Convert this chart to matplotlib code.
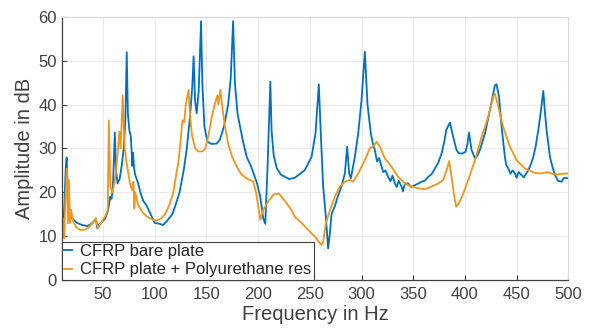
import matplotlib
matplotlib.use("Agg")
import matplotlib.pyplot as plt

# CFRP bare plate (frequency in Hz, amplitude in dB)
bare_f = [10, 11, 12, 13, 14, 14.8, 15.5, 16.2, 17, 18, 20, 25, 30, 35, 40, 43, 44.4, 46, 48,
          52, 55, 57, 58.2, 59.5, 61.4, 62.5, 64, 66, 68, 70, 71.5, 72.9, 74, 75.5, 76.8, 77.5,
          78.3, 79, 80, 81, 84, 86, 89, 92, 96, 100, 105, 108, 112, 117, 120, 124, 128, 131,
          134, 136.3, 137.6, 139, 140.5, 142.5, 144.8, 146, 148, 151, 155, 160, 163, 167, 171,
          173.5, 175.8, 177.5, 180, 185, 189, 193, 196, 199, 202, 205, 206.9, 209, 211.8, 213,
          215, 218, 222, 226, 230, 235.5, 245, 251.6, 255.5, 258.7, 260.6, 262.9, 265.5, 267.7,
          269.4, 271, 274, 277, 280.6, 283.9, 286.1, 288, 289.7, 293.5, 296.8, 300, 303.2,
          305.8, 309, 311, 312.9, 315, 317, 319.4, 321, 323, 325.8, 328, 330, 332.3, 334, 336,
          338.7, 340, 342, 345.2, 348, 351.6, 355, 358, 361, 364.5, 368, 371, 374, 377.4, 380,
          382, 385.5, 388.7, 391.9, 394, 396.8, 400.6, 402.5, 403.9, 406.5, 409.7, 412, 414.5,
          419.4, 424.2, 429, 430.6, 433, 435.5, 438.7, 440, 442, 444, 446, 448.4, 450, 452,
          454.8, 457, 459, 461.3, 464, 466.1, 468.5, 471, 473.5, 475.8, 477.5, 479, 482.3, 485,
          487, 490, 493.5, 496, 500]
bare_db = [22.4, 10.5, 12.0, 20.0, 26.0, 27.9, 22.8, 18.0, 16.0, 15.0, 14.0, 13.0, 12.5, 12.3,
           13.0, 14.0, 11.8, 12.6, 13.0, 14.0, 16.0, 19.0, 18.5, 21.0, 33.6, 25.0, 22.0, 23.0,
           26.0, 30.0, 36.0, 51.9, 38.0, 34.0, 32.8, 30.0, 26.0, 29.0, 25.5, 24.0, 22.0, 20.0,
           18.0, 17.0, 15.0, 13.0, 12.8, 12.5, 13.5, 15.0, 17.0, 20.0, 25.0, 30.0, 37.0, 44.0,
           51.0, 41.0, 38.0, 43.0, 59.0, 45.0, 35.0, 31.5, 31.0, 31.1, 32.0, 35.0, 40.0, 46.0,
           59.0, 45.0, 38.0, 32.0, 28.0, 26.0, 24.0, 22.0, 19.0, 14.0, 12.8, 25.0, 45.2, 34.0,
           28.5, 25.5, 24.0, 23.5, 23.0, 23.3, 25.0, 28.0, 33.4, 44.6, 33.4, 21.3, 14.4, 7.2,
           10.6, 15.0, 16.7, 19.0, 21.3, 24.3, 30.4, 24.3, 23.2, 28.0, 33.4, 41.0, 52.0, 40.0,
           33.4, 31.0, 29.6, 27.0, 27.8, 25.8, 24.6, 25.0, 23.5, 22.5, 23.8, 22.0, 21.2, 22.6,
           21.3, 20.2, 22.0, 22.0, 21.2, 21.6, 22.0, 22.4, 22.6, 23.5, 24.2, 25.4, 26.6, 28.8,
           31.5, 34.2, 35.9, 32.6, 29.6, 28.9, 28.8, 29.2, 31.0, 33.6, 29.6, 27.7, 28.3, 29.6,
           33.4, 38.7, 44.4, 44.6, 41.8, 34.9, 28.0, 26.2, 25.4, 24.2, 25.0, 24.3, 23.3, 24.6,
           23.9, 23.4, 24.2, 25.0, 26.5, 28.0, 30.5, 34.2, 38.5, 43.1, 38.0, 34.2, 28.0, 25.5,
           24.0, 22.6, 22.4, 23.3, 23.2]

# CFRP plate + Polyurethane resin
res_f = [10, 10.8, 11.5, 12.5, 13.5, 15, 16, 17, 18, 19, 21, 24, 28, 33, 36, 40, 43, 45,
         48, 52, 54.5, 55.6, 57, 59, 61, 63, 64.5, 65.7, 67, 69, 70, 71, 72.5, 74, 76,
         78, 79.4, 80.3, 81, 84, 88, 92, 96, 101, 106, 110, 114, 118, 120, 123, 125,
         126.8, 128.5, 130, 132.7, 134, 136, 139, 142, 146, 149, 152, 155, 158, 160.5,
         161.5, 163.4, 165, 168, 171, 175, 179, 184, 190, 195, 198, 200, 202, 205, 210,
         215, 220, 226, 232, 235.5, 242, 248.4, 254.8, 258.7, 261.3, 262.9, 265.5, 269.4,
         274.2, 279, 283.9, 288.7, 291.9, 296.8, 303.2, 308, 311.3, 314.5, 317.7, 322.6,
         329, 335.5, 342, 348.4, 354.8, 361.3, 367.7, 374.2, 379, 382.3, 384.8, 387.1,
         389.7, 391.6, 394.2, 398.4, 403.2, 409.7, 416.1, 422.6, 427.4, 429, 432.3, 437,
         443.5, 450, 458, 467.7, 474, 480.6, 485, 490.3, 495, 500]
res_db = [16.0, 10.0, 14.0, 9.5, 18.0, 25.4, 12.9, 22.8, 13.0, 16.0, 13.5, 12.0, 11.4, 11.5,
          12.0, 13.0, 14.0, 11.8, 13.0, 14.5, 16.0, 36.4, 21.3, 20.0, 22.0, 26.0, 30.0, 33.8,
          30.0, 42.1, 35.0, 30.0, 27.0, 25.0, 22.0, 20.5, 22.4, 16.3, 20.0, 17.0, 15.5, 14.5,
          14.0, 13.5, 14.0, 15.0, 17.0, 20.0, 23.0, 27.0, 32.0, 36.4, 36.0, 40.0, 43.3, 38.0,
          33.0, 30.0, 29.3, 29.3, 30.0, 33.0, 37.0, 40.0, 42.1, 40.0, 43.3, 40.0, 35.0, 31.0,
          28.0, 26.0, 24.0, 23.0, 22.5, 20.0, 17.0, 13.7, 16.0, 18.0, 19.5, 19.7, 18.0, 16.0,
          14.4, 13.0, 11.4, 9.9, 8.7, 8.0, 8.7, 12.9, 15.9, 19.0, 21.3, 22.4, 22.8, 22.4, 24.3,
          27.3, 30.0, 30.5, 31.5, 30.4, 27.7, 25.8, 23.5, 22.0, 21.3, 20.9, 20.7, 21.3, 22.0,
          22.8, 25.0, 27.1, 23.5, 19.0, 16.7, 17.5, 19.7, 22.8, 27.3, 32.6, 37.2, 41.8, 42.5,
          39.5, 34.9, 30.4, 27.3, 25.4, 24.4, 24.3, 24.6, 24.1, 24.1, 24.2, 24.3]

labels = ["CFRP bare plate", "CFRP plate + Polyurethane res"]
xticks = [50, 100, 150, 200, 250, 300, 350, 400, 450, 500]
yticks = [0, 10, 20, 30, 40, 50, 60]

plt.rcParams["font.family"] = ["Liberation Sans", "DejaVu Sans"]
txt = "#404040"

fig = plt.figure(figsize=(5.95, 3.29), dpi=100)
ax = fig.add_axes([0.1037, 0.149, 0.8514, 0.800])

ax.plot(bare_f, bare_db, color="#0072BD", lw=1.3, label=labels[0])
ax.plot(res_f, res_db, color="#F0961E", lw=1.3, label=labels[1])

ax.set_xlim(10, 500)
ax.set_ylim(0, 60)
ax.set_xticks(xticks)
ax.set_yticks(yticks)
ax.grid(True, color="#e6e6e6", lw=0.6)
ax.set_axisbelow(True)

for side in ["top", "right"]:
    ax.spines[side].set_color("#d9d9d9")
for side in ["left", "bottom"]:
    ax.spines[side].set_color("#404040")
    ax.spines[side].set_linewidth(0.9)
ax.tick_params(direction="in", length=3.5, colors=txt, labelsize=12, top=False, right=False)
ax.tick_params(axis="x", pad=5)

ax.set_xlabel("Frequency in Hz", fontsize=14.5, color=txt, labelpad=2)
ax.set_ylabel("Amplitude in dB", fontsize=14.5, color=txt, labelpad=3)

leg = ax.legend(loc="lower left", borderaxespad=0, fancybox=False, framealpha=1,
                edgecolor="#404040", fontsize=12, handlelength=0.45, handletextpad=0.5,
                borderpad=0.15, labelspacing=0.2)
leg.get_frame().set_linewidth(0.8)
for t in leg.get_texts():
    t.set_color("#262626")

fig.savefig("out.png", dpi=100)
